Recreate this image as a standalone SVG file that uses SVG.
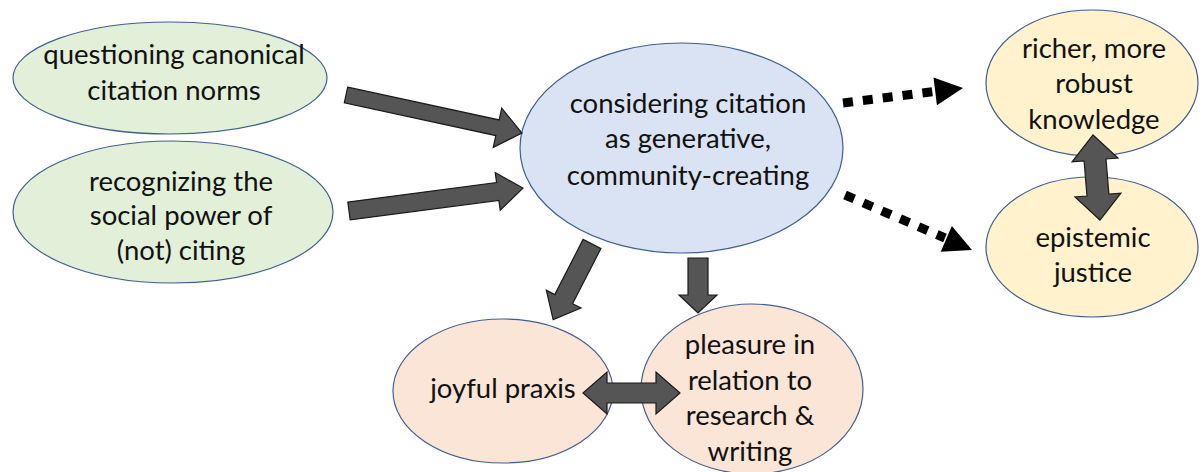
<svg xmlns="http://www.w3.org/2000/svg" width="1201" height="472" viewBox="0 0 1201 472">
<style>
  .node ellipse { stroke: #3f5f8f; stroke-width: 1.2; }
  .green { fill: #e2f0d9; }
  .blue { fill: #dae3f3; }
  .peach { fill: #fbe5d6; }
  .yellow { fill: #fff2cc; }
  text { font-family: Lato, "Open Sans", "Liberation Sans", sans-serif; font-size: 27.5px; fill: #111111; text-anchor: middle; }
  .block { fill: #555555; stroke: #1a1a1a; stroke-width: 1.2; stroke-linejoin: miter; }
  .dotted { fill: none; stroke: #000; stroke-width: 9; stroke-dasharray: 10 10; }
  .head { fill: #000; }
</style>
<rect width="1201" height="472" fill="#ffffff"/>

<g id="node-questioning" class="node">
  <ellipse class="green" cx="170" cy="78" rx="157" ry="56"/>
  <text x="174" y="64">questioning canonical</text>
  <text x="174" y="100">citation norms</text>
</g>
<g id="node-recognizing" class="node">
  <ellipse class="green" cx="173" cy="212" rx="160" ry="71"/>
  <text x="181" y="191">recognizing the</text>
  <text x="181" y="225">social power of</text>
  <text x="181" y="260">(not) citing</text>
</g>
<g id="node-considering" class="node">
  <ellipse class="blue" cx="681.5" cy="148" rx="161.5" ry="105"/>
  <text x="688" y="113">considering citation</text>
  <text x="688" y="148">as generative,</text>
  <text x="688" y="185">community-creating</text>
</g>
<g id="node-richer" class="node">
  <ellipse class="yellow" cx="1092" cy="83" rx="106" ry="73"/>
  <text x="1094" y="58">richer, more</text>
  <text x="1094" y="93">robust</text>
  <text x="1094" y="129">knowledge</text>
</g>
<g id="node-epistemic" class="node">
  <ellipse class="yellow" cx="1092" cy="247" rx="106" ry="70"/>
  <text x="1093" y="247">epistemic</text>
  <text x="1093" y="282">justice</text>
</g>
<g id="node-joyful" class="node">
  <ellipse class="peach" cx="503" cy="391" rx="110" ry="72"/>
  <text x="503" y="398">joyful praxis</text>
</g>
<g id="node-pleasure" class="node">
  <ellipse class="peach" cx="752" cy="389" rx="111" ry="85"/>
  <text x="750" y="354">pleasure in</text>
  <text x="750" y="390">relation to</text>
  <text x="750" y="425">research &amp;</text>
  <text x="750" y="461">writing</text>
</g>

<g id="connectors">
  <polygon class="block" transform="translate(346,95) rotate(12.2)" points="0,-8 155,-8 155,-20 180,0 155,20 155,8 0,8"/>
  <polygon class="block" transform="translate(349,211) rotate(-7.5)" points="0,-9 150,-9 150,-19 175.5,0 150,19 150,9 0,9"/>
  <polygon class="block" transform="translate(592,244) rotate(117.2)" points="0,-10 62,-10 62,-19.5 85,0 62,19.5 62,10 0,10"/>
  <polygon class="block" transform="translate(698,258) rotate(90)" points="0,-10 37,-10 37,-19 55,0 37,19 37,10 0,10"/>
  <polygon class="block" transform="translate(583,393)" points="0,0 24,-21 24,-10 73,-10 73,-21 97,0 73,21 73,10 24,10 24,21"/>
  <polygon class="block" transform="translate(1093,135) rotate(85.3)" points="0,0 25,-23 25,-11 60.3,-11 60.3,-23 85.3,0 60.3,23 60.3,11 25,11 25,23"/>
  <line class="dotted" x1="843" y1="103" x2="935" y2="91.5"/>
  <polygon class="head" transform="translate(963,88) rotate(-7.1)" points="0,0 -28,-14 -28,14"/>
  <line class="dotted" x1="845" y1="195" x2="945" y2="238"/>
  <polygon class="head" transform="translate(972,250) rotate(23.4)" points="0,0 -28,-14 -28,14"/>
</g>
</svg>
